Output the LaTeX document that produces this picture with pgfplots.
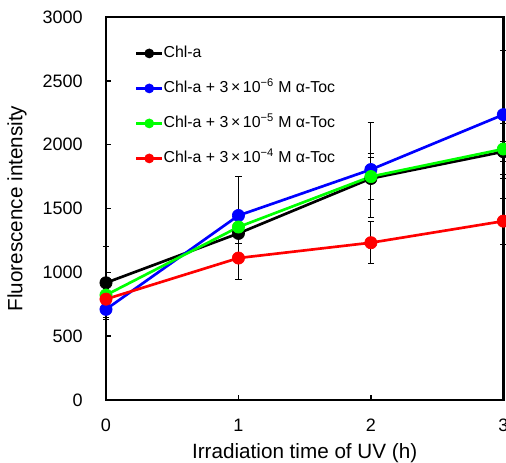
\documentclass[border=0pt]{standalone}
\usepackage{pgfplots}
\pgfplotsset{compat=1.18}
\usepackage{fontspec}
\setmainfont{Liberation Sans}
\definecolor{pblue}{RGB}{0,0,255}
\definecolor{pgreen}{RGB}{0,255,0}
\definecolor{pred}{RGB}{255,0,0}

\pgfplotsset{
    ebar/.style={
            error bars/.cd, y dir=both, y explicit,
            error bar style={black, line width=0.75pt},
            error mark options={rotate=90, mark size=2.4pt, line width=0.75pt, black},
        },
}

\begin{document}
\begin{tikzpicture}
    \begin{axis}[
            at={(0,0)}, anchor=south west,
            scale only axis, width=298pt, height=287.25pt,
            xmin=0, xmax=3, ymin=0, ymax=3000,
            xtick={0,1,2,3}, ytick={0,500,...,3000},
            xtick pos=bottom, ytick pos=left, tick align=inside,
            major tick length=4pt,
            axis on top,
            axis line style={line width=2pt},
            tick style={line width=1.2pt, black},
            clip=false,
            /pgf/number format/assume math mode=true,
            /pgf/number format/1000 sep={},
            tick label style={font=\fontsize{13.5}{16}\selectfont},
            yticklabel style={anchor=east, inner sep=0pt, xshift=-17.25pt},
            xticklabel style={anchor=center, inner sep=0pt, yshift=-18.75pt},
            xlabel={Irradiation time of UV (h)},
            ylabel={Fluorescence intensity},
            every axis x label/.style={at={(axis description cs:0.5,0)}, anchor=center, yshift=-39.5pt, font=\fontsize{15.5}{18}\selectfont},
            every axis y label/.style={at={(axis description cs:0,0.5)}, xshift=-66.75pt, rotate=90, anchor=center, font=\fontsize{15.5}{18}\selectfont},
            legend style={draw=none, fill=none, at={(axis description cs:0,1)}, anchor=north west,
                    xshift=21.5pt, yshift=-21.5pt, font=\fontsize{11.9}{13}\selectfont,
                    row sep=15pt, column sep=0pt, inner sep=0pt,
                    nodes={inner sep=0pt, text height=8.75pt, text depth=2.5pt}},
            legend cell align=left,
            legend image code/.code={\draw[mark indices={2}, #1, mark size=3.4pt] plot coordinates {(0pt,0pt) (9.75pt,0pt) (19.5pt,0pt)};},
        ]
        \addplot[black, line width=2pt, mark=*, mark size=4.6pt, mark options={solid, line width=0.5pt}, ebar]
        table[x=x, y=y, y error=e] {
            x y e
            0 918 285
            1 1305 80
            2 1735 165
            3 1945 80
        };
        \addlegendentry{Chl-a}
        \addplot[pblue, line width=2pt, mark=*, mark size=4.6pt, mark options={solid, line width=0.5pt}, ebar]
        table[x=x, y=y, y error=e] {
            x y e
            0 710 60
            1 1445 307
            2 1805 372
            3 2235 500
        };
        \addlegendentry{Chl-a + 3\,×\,10\textsuperscript{−6} M α-Toc}
        \addplot[pgreen, line width=2pt, mark=*, mark size=4.6pt, mark options={solid, line width=0.5pt}, ebar]
        table[x=x, y=y, y error=e] {
            x y e
            0 822 50
            1 1355 70
            2 1750 182
            3 1966 200
        };
        \addlegendentry{Chl-a + 3\,×\,10\textsuperscript{−5} M α-Toc}
        \addplot[pred, line width=2pt, mark=*, mark size=4.6pt, mark options={solid, line width=0.5pt}, ebar]
        table[x=x, y=y, y error=e] {
            x y e
            0 790 40
            1 1112 170
            2 1232 165
            3 1401 180
        };
        \addlegendentry{Chl-a + 3\,×\,10\textsuperscript{−4} M α-Toc}
    \end{axis}
    \pgfresetboundingbox
    \path[use as bounding box] (-79.5pt,-47.25pt) rectangle (300pt,300pt);
\end{tikzpicture}
\end{document}
